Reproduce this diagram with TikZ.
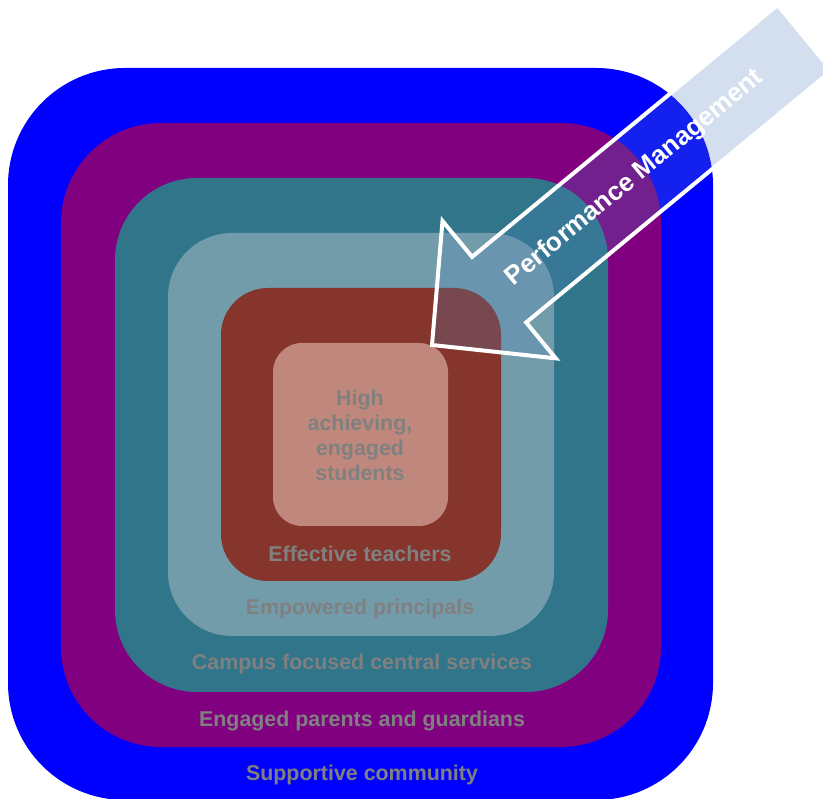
\documentclass[tikz,border=0pt]{standalone}
\usepackage{fontspec}
\setmainfont{Liberation Sans}

\definecolor{ringblue}{RGB}{0,0,255}
\definecolor{ringpurple}{RGB}{128,0,128}
\definecolor{ringteal}{RGB}{49,117,139}
\definecolor{ringlight}{RGB}{115,156,171}
\definecolor{ringbrown}{RGB}{133,53,43}
\definecolor{ringsalmon}{RGB}{192,136,124}
\definecolor{pmblue}{RGB}{79,129,189}

\begin{document}
\begin{tikzpicture}[x=1pt,y=-1pt,
        lbl/.style={text=gray,font=\bfseries\fontsize{21.4}{25}\selectfont,align=center}]
        \clip (0,0) rectangle (823,799);

        \fill[ringblue,rounded corners=117pt] (8,68) rectangle (713,800);
        \fill[ringpurple,rounded corners=100pt] (61,123) rectangle (661,747);
        \fill[ringteal,rounded corners=82pt] (115,178) rectangle (608,692);
        \fill[ringlight,rounded corners=64pt] (168,233) rectangle (554,636);
        \fill[ringbrown,rounded corners=47pt] (221,288) rectangle (501,581);
        \fill[ringsalmon,rounded corners=29pt] (273,343) rectangle (448,526);

        \node[lbl,anchor=base] (community) at (362,780) {Supportive community};
        \node[lbl,anchor=base] (parents) at (362,727) {Engaged parents and guardians};
        \node[lbl,anchor=base] (central) at (362,670) {Campus focused central services};
        \node[lbl,anchor=base] (principals) at (360,615) {Empowered principals};
        \node[lbl,anchor=base] (teachers) at (360,562) {Effective teachers};
        \node[lbl] (students) at (360,435) {High\\achieving,\\engaged\\students};

        \begin{scope}[shift={(432,345)},rotate=39.5]
            \filldraw[fill=pmblue,fill opacity=0.25,draw=white,line width=4pt]
                (0,0) -- (87,-89) -- (87,-42.5) -- (483,-42.5)
                -- (483,42.5) -- (87,42.5) -- (87,89) -- cycle;
            \node[transform shape,text=white,font=\bfseries\fontsize{26}{30}\selectfont]
                (perf) at (263,0) {Performance Management};
        \end{scope}
    \end{tikzpicture}
\end{document}
